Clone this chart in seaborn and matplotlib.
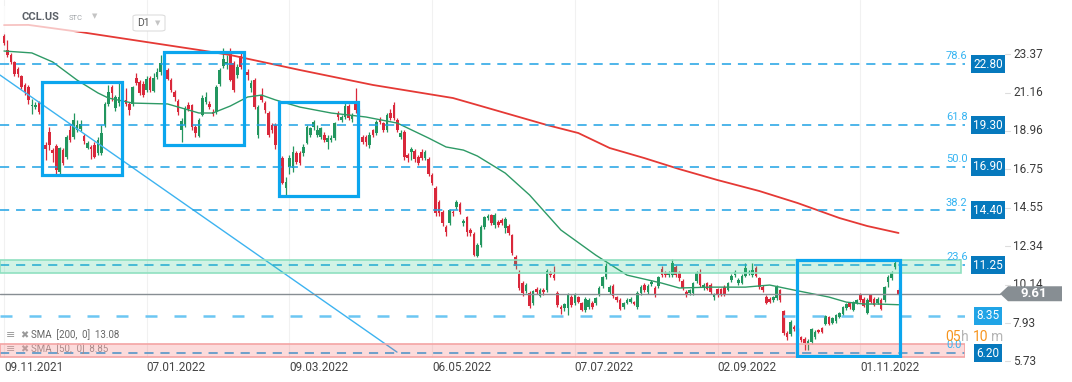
import numpy as np
import pandas as pd
import seaborn as sns
import matplotlib.pyplot as plt
import matplotlib.transforms as mtransforms
from matplotlib.patches import Rectangle, FancyBboxPatch, Polygon

sns.set_style("white")
plt.rcParams['font.family'] = ['Roboto', 'DejaVu Sans']

# daily candles CCL.US (D1)
opens = [24.41, 23.61, 23.32, 22.92, 22.52, 22.11, 21.60, 21.48, 20.39, 20.34,
         20.62, 20.05, 18.15, 18.90, 17.86, 18.09, 16.60, 17.86, 17.46, 19.01,
         18.61, 19.01, 19.07, 18.67, 17.98, 18.04, 18.15, 17.69, 17.69, 19.30,
         20.51, 21.48, 20.28, 20.56, 20.90, 20.74, 20.51, 20.51, 22.00, 21.77,
         21.66, 21.31, 22.00, 21.25, 22.06, 22.34, 22.80, 22.46, 21.88, 21.20,
         20.68, 19.01, 19.30, 20.45, 20.45, 19.19, 18.67, 19.87, 20.62, 20.51,
         20.05, 20.05, 21.66, 22.69, 22.80, 23.40, 22.86, 22.17, 23.26, 22.60,
         22.34, 21.43, 21.88, 18.73, 21.02, 20.56, 19.99, 19.30, 19.30, 17.80,
         17.40, 15.68, 16.89, 16.83, 17.69, 17.69, 17.69, 18.27, 18.73, 19.19,
         18.73, 18.61, 18.73, 18.32, 18.44, 18.55, 19.99, 19.59, 19.76, 20.39,
         19.64, 20.62, 20.10, 18.61, 18.61, 18.15, 19.01, 18.84, 19.64, 19.41,
         19.01, 19.99, 20.45, 19.59, 18.61, 18.90, 17.58, 17.75, 17.81, 17.46,
         17.75, 17.40, 17.35, 16.43, 15.68, 14.88, 14.30, 13.44, 13.67, 14.30,
         14.59, 14.76, 13.67, 14.02, 13.27, 13.04, 11.77, 12.41, 13.44, 13.96,
         14.13, 13.56, 13.73, 13.84, 13.38, 13.50, 12.98, 11.72, 10.74, 10.22,
         9.77, 9.65, 9.08, 9.88, 9.48, 9.82, 9.82, 10.80, 10.68, 9.65,
         8.85, 8.79, 8.79, 9.42, 9.08, 9.42, 9.08, 8.67, 8.85, 9.08,
         9.08, 9.59, 10.05, 10.57, 9.71, 10.05, 9.42, 9.25, 8.85, 9.08,
         9.13, 9.13, 8.85, 9.65, 10.11, 9.71, 10.17, 9.94, 10.05, 11.03,
         10.80, 10.68, 10.68, 11.14, 10.80, 10.34, 9.71, 9.65, 9.65, 10.34,
         10.80, 9.94, 10.22, 10.11, 9.42, 9.88, 9.88, 9.99, 9.82, 10.40,
         10.68, 10.22, 10.22, 10.63, 10.80, 10.68, 11.09, 10.51, 9.99, 9.42,
         9.31, 9.25, 9.36, 9.82, 8.62, 7.35, 7.30, 7.70, 7.55, 7.12,
         7.01, 6.72, 6.84, 7.12, 7.53, 7.64, 7.87, 8.27, 7.93, 8.04,
         8.27, 8.44, 8.79, 9.08, 8.67, 9.08, 9.59, 9.31, 8.50, 9.54,
         9.31, 9.08, 9.25, 9.25, 10.28, 10.51, 11.14, 9.85]
highs = [24.55, 24.18, 23.45, 23.00, 22.65, 22.20, 21.70, 21.60, 20.80, 20.60,
         20.70, 20.10, 18.30, 19.20, 18.00, 18.20, 18.05, 18.00, 18.70, 19.30,
         20.00, 19.60, 19.60, 18.80, 18.40, 18.15, 18.30, 18.60, 19.30, 20.60,
         21.60, 21.60, 21.00, 21.70, 21.10, 21.43, 20.60, 21.55, 22.30, 21.90,
         21.80, 22.10, 22.10, 22.30, 22.60, 23.30, 23.30, 22.60, 22.00, 21.30,
         20.80, 19.70, 20.40, 20.60, 20.50, 19.30, 19.70, 21.00, 21.20, 20.70,
         20.20, 21.60, 22.60, 23.72, 23.30, 23.75, 23.00, 22.80, 23.50, 22.70,
         22.50, 21.90, 22.00, 20.45, 21.40, 20.70, 20.10, 19.40, 19.40, 17.90,
         17.50, 16.30, 17.60, 18.10, 17.80, 17.80, 18.20, 19.30, 19.20, 19.60,
         19.30, 19.20, 18.90, 18.70, 18.70, 19.50, 20.10, 19.90, 20.60, 20.50,
         20.00, 21.43, 20.20, 18.70, 18.70, 18.90, 19.10, 19.60, 19.75, 19.50,
         20.00, 20.20, 20.60, 19.70, 19.00, 19.00, 17.70, 18.05, 17.90, 17.60,
         17.90, 17.85, 17.45, 16.55, 15.80, 15.00, 14.40, 13.55, 14.50, 14.40,
         15.00, 14.90, 13.90, 14.10, 13.40, 13.15, 12.50, 13.55, 14.10, 14.20,
         14.20, 14.25, 13.85, 13.95, 14.00, 13.60, 13.05, 11.85, 11.00, 10.35,
         10.20, 9.75, 9.85, 10.00, 9.95, 9.95, 11.05, 10.90, 11.20, 9.75,
         8.95, 9.10, 9.65, 9.55, 9.65, 9.50, 9.15, 9.40, 9.35, 9.20,
         9.45, 10.05, 10.65, 11.40, 10.10, 10.15, 9.50, 9.35, 9.15, 9.35,
         9.40, 9.20, 9.75, 10.10, 10.20, 10.15, 10.40, 10.05, 10.65, 11.20,
         10.90, 10.90, 11.60, 11.25, 10.90, 10.45, 9.80, 9.90, 10.30, 10.90,
         11.03, 10.20, 10.30, 10.20, 9.65, 9.95, 9.95, 10.10, 10.30, 10.75,
         10.95, 10.50, 10.75, 11.35, 10.95, 11.40, 11.20, 10.60, 10.10, 9.55,
         9.45, 9.50, 10.10, 9.90, 8.70, 7.45, 8.10, 7.80, 7.65, 7.20,
         7.10, 7.00, 7.65, 7.50, 7.60, 7.70, 8.40, 8.35, 8.30, 8.45,
         8.55, 8.90, 9.10, 9.15, 9.20, 9.30, 9.65, 9.40, 9.35, 9.60,
         9.40, 9.40, 9.35, 10.05, 10.70, 10.90, 11.55, 9.95]
lows = [23.90, 23.21, 22.80, 22.10, 22.05, 21.35, 21.05, 20.50, 19.95, 20.20,
        19.95, 19.00, 17.30, 17.85, 17.15, 16.50, 16.45, 17.00, 17.35, 18.30,
        18.50, 18.90, 18.95, 18.20, 17.90, 17.35, 17.40, 17.60, 17.60, 19.20,
        20.40, 20.70, 20.10, 20.40, 20.40, 20.40, 19.90, 20.40, 21.60, 21.00,
        20.90, 21.20, 21.20, 21.20, 21.95, 22.20, 22.60, 21.90, 21.20, 20.70,
        19.90, 18.32, 19.20, 20.10, 19.00, 18.60, 18.60, 19.80, 20.50, 20.20,
        19.80, 19.95, 21.55, 22.60, 22.50, 21.80, 21.20, 22.00, 22.50, 22.00,
        21.90, 21.20, 20.20, 18.55, 20.60, 20.00, 18.60, 18.85, 17.90, 16.80,
        15.90, 15.22, 16.50, 16.60, 17.05, 17.00, 17.50, 18.20, 18.60, 19.00,
        18.60, 18.50, 18.35, 17.95, 18.30, 18.45, 19.60, 19.50, 19.65, 19.60,
        19.50, 20.00, 18.70, 18.20, 18.10, 18.00, 18.60, 18.70, 19.35, 18.90,
        18.90, 19.60, 19.60, 18.90, 18.50, 17.30, 17.20, 17.30, 17.20, 17.00,
        17.30, 17.30, 16.40, 15.85, 14.10, 14.10, 13.50, 12.95, 13.55, 14.10,
        14.45, 14.20, 13.50, 12.90, 12.90, 11.75, 11.70, 12.30, 13.30, 13.85,
        13.55, 13.40, 13.45, 13.55, 13.10, 13.00, 11.85, 11.05, 9.85, 9.50,
        9.65, 8.80, 8.95, 9.60, 9.40, 9.55, 9.70, 10.60, 10.40, 8.85,
        8.45, 8.60, 8.40, 8.85, 8.95, 9.05, 8.60, 8.55, 8.75, 8.75,
        8.95, 9.50, 9.95, 10.45, 9.60, 9.35, 9.15, 8.65, 8.75, 9.00,
        9.05, 8.95, 8.75, 9.55, 9.70, 9.60, 10.05, 9.45, 9.95, 10.60,
        10.55, 10.55, 10.55, 10.55, 10.35, 9.85, 9.45, 9.55, 9.55, 10.25,
        10.00, 9.85, 9.80, 9.60, 9.25, 9.45, 9.50, 9.50, 9.75, 10.30,
        10.60, 10.10, 10.15, 10.55, 10.70, 10.60, 10.55, 9.90, 9.70, 9.00,
        9.05, 9.15, 9.25, 9.15, 7.25, 6.95, 7.20, 7.45, 7.20, 6.85,
        6.38, 6.40, 6.75, 7.00, 7.35, 7.35, 7.80, 7.80, 7.85, 7.95,
        8.20, 8.35, 8.70, 8.75, 8.60, 9.00, 9.15, 8.85, 8.45, 9.05,
        8.90, 9.00, 8.65, 9.15, 9.99, 10.40, 11.05, 9.55]
closes = [24.01, 23.32, 22.92, 22.23, 22.23, 21.48, 21.20, 20.74, 20.45, 20.45,
          20.05, 19.10, 17.92, 18.15, 17.69, 16.72, 17.98, 17.12, 18.61, 18.44,
          19.59, 19.30, 19.36, 18.38, 18.27, 17.92, 17.46, 18.44, 18.84, 20.51,
          21.20, 21.14, 20.91, 20.91, 20.60, 20.51, 20.16, 21.48, 21.71, 21.14,
          21.02, 21.94, 21.31, 22.00, 22.34, 22.86, 23.10, 21.94, 21.31, 20.91,
          20.05, 19.53, 20.28, 20.22, 19.19, 18.84, 19.59, 20.85, 20.91, 20.34,
          19.93, 21.48, 22.46, 23.09, 22.92, 21.88, 21.31, 22.63, 22.63, 22.20,
          22.17, 21.71, 20.33, 20.33, 20.74, 20.16, 18.73, 19.01, 18.15, 17.00,
          15.97, 16.03, 17.40, 17.75, 17.17, 17.12, 18.04, 19.19, 19.13, 19.47,
          19.01, 19.13, 18.44, 18.55, 18.55, 19.41, 19.76, 19.76, 20.39, 19.70,
          19.87, 20.16, 18.80, 18.32, 18.32, 18.73, 18.73, 19.47, 19.47, 19.01,
          19.87, 19.70, 19.70, 19.01, 18.84, 17.46, 17.40, 17.92, 17.35, 17.12,
          17.40, 17.75, 16.49, 15.97, 14.25, 14.25, 13.67, 13.15, 14.42, 14.25,
          14.88, 14.30, 13.79, 13.15, 13.10, 11.83, 12.41, 13.44, 14.02, 14.07,
          13.67, 14.13, 13.56, 13.67, 13.90, 13.10, 11.95, 11.20, 9.94, 9.65,
          10.11, 8.90, 9.77, 9.71, 9.82, 9.71, 10.91, 10.68, 10.51, 8.96,
          8.73, 9.02, 9.54, 8.96, 9.54, 9.13, 8.67, 9.31, 9.25, 8.85,
          9.36, 9.94, 10.57, 11.20, 9.99, 9.48, 9.25, 8.73, 9.08, 9.25,
          9.31, 9.02, 9.65, 9.99, 9.82, 10.05, 10.28, 9.54, 10.57, 10.68,
          10.68, 10.80, 11.37, 10.68, 10.51, 9.94, 9.54, 9.82, 10.22, 10.80,
          10.11, 10.11, 9.88, 9.71, 9.54, 9.54, 9.59, 9.59, 10.22, 10.63,
          10.86, 10.40, 10.63, 11.09, 10.86, 10.97, 10.63, 10.00, 9.82, 9.08,
          9.13, 9.42, 9.99, 9.25, 7.35, 7.12, 7.98, 7.58, 7.30, 6.95,
          6.78, 6.89, 7.58, 7.41, 7.41, 7.41, 8.33, 7.87, 8.21, 8.39,
          8.50, 8.85, 9.02, 8.85, 9.13, 9.25, 9.25, 8.90, 9.25, 9.13,
          8.96, 9.31, 8.73, 9.99, 10.57, 10.80, 11.37, 9.61]

date_ticks = [0, 41, 82, 123, 164, 205, 246]
date_labels = ["09.11.2021", "07.01.2022", "09.03.2022", "06.05.2022",
               "07.07.2022", "02.09.2022", "01.11.2022"]
price_ticks = [23.37, 21.16, 18.96, 16.75, 14.55, 12.34, 10.14, 7.93, 5.73]

# moving averages sampled along the drawn curves
sma200_idx = [0, 7, 22, 56, 65, 85, 106, 129, 136, 156, 165, 174, 184, 194,
              205, 217, 228, 240, 248, 257]
sma200_val = [25.04, 25.05, 24.64, 23.61, 23.32, 22.46, 21.60, 20.85, 20.45,
              19.30, 18.84, 17.98, 17.40, 16.77, 16.14, 15.51, 14.82, 13.96,
              13.50, 13.10]
sma50_idx = [0, 8, 14, 21, 27, 30, 37, 47, 56, 60, 65, 70, 74, 78, 85, 94,
             104, 113, 122, 127, 132, 136, 144, 151, 160, 170, 179, 189, 194,
             203, 213, 220, 227, 237, 242, 247, 251, 257]
sma50_val = [23.55, 23.44, 22.92, 21.88, 21.14, 20.85, 20.56, 20.51, 19.99,
             19.99, 20.39, 20.91, 21.02, 20.74, 20.33, 19.99, 19.76, 19.41,
             18.55, 18.04, 17.86, 17.52, 16.54, 15.28, 13.27, 11.83, 10.68,
             10.22, 9.94, 9.99, 9.99, 10.11, 9.82, 9.42, 9.13, 9.02, 9.02, 8.98]

levels = [22.80, 19.30, 16.90, 14.40, 11.25, 8.35, 6.20]
fib_labels = ["78.6", "61.8", "50.0", "38.2", "23.6", "", "0.0"]
zone_green = [10.80, 11.55]
zone_red = [5.97, 6.72]
trend_x = [-1.15, 112.9]
trend_y = [22.17, 6.26]
# boxes: (start idx, end idx, low, high)
box_x0 = [10.9, 46.0, 79.0, 227.9]
box_x1 = [33.9, 69.0, 101.7, 257.5]
box_lo = [16.43, 18.15, 15.22, 6.03]
box_hi = [21.77, 23.49, 20.62, 11.55]
last_price = 9.61
sma200_last = 13.08
sma50_last = 8.85

W, H = 1072, 382
AX_W, AX_H = 965, 358
fig = plt.figure(figsize=(W / 100, H / 100), dpi=100)
ax = fig.add_axes([0, 1 - AX_H / H, AX_W / W, AX_H / H])
ax.set_xlim(-1.15, 276.1)
ax.set_ylim(5.92, 26.48)
for s in ax.spines.values():
    s.set_visible(False)

def px(x):
    return x / AX_W

def ay(y):
    return 1 - y / AX_H

trans = mtransforms.blended_transform_factory(ax.transAxes, ax.transData)

# candles
o = np.array(opens); h = np.array(highs); l = np.array(lows); c = np.array(closes)
idx = np.arange(len(o))
green, red = '#22965f', '#d9283b'
cols = np.where(c >= o, green, red)
ax.vlines(idx, l, h, colors=cols, lw=0.9, zorder=2)
ax.bar(idx, np.maximum(np.abs(c - o), 0.05), bottom=np.minimum(o, c),
       width=0.75, color=cols, lw=0, zorder=2)

# moving averages
sns.lineplot(data=pd.DataFrame({'i': sma200_idx, 'v': sma200_val}), x='i', y='v',
             ax=ax, color='#e53935', linewidth=1.3, zorder=2.5, legend=False)
sns.lineplot(data=pd.DataFrame({'i': sma50_idx, 'v': sma50_val}), x='i', y='v',
             ax=ax, color='#2e9a66', linewidth=1.0, zorder=2.5, legend=False)

# trend line
ax.plot(trend_x, trend_y, color='#3db3f0', lw=1.0, zorder=3)

# levels
for v, fl in zip(levels, fib_labels):
    if v == 8.35:
        ax.axhline(v, color='#6cc6f3', lw=1.8, dashes=(4.8, 6.8), zorder=3)
    else:
        ax.axhline(v, color='#1ea2e4', lw=1.1, dashes=(6, 4.5), zorder=3)
    if fl:
        ax.annotate(fl, (px(946), v), xycoords=trans, xytext=(0, 2),
                    textcoords='offset points', ha='left', va='bottom',
                    fontsize=8, color='#35b4f2', annotation_clip=False, zorder=6)

# zones
ax.axhspan(zone_green[0], zone_green[1], xmin=0, xmax=px(961),
           facecolor=(0.18, 0.80, 0.55, 0.22), edgecolor='#8fe0c0', lw=1.2, zorder=4)
ax.axhspan(zone_red[0], zone_red[1], xmin=0, xmax=1,
           facecolor=(0.94, 0.30, 0.30, 0.20), edgecolor='#f4a4a4', lw=1.2, zorder=4)

# highlight boxes
for x0, x1, lo, hi in zip(box_x0, box_x1, box_lo, box_hi):
    ax.add_patch(Rectangle((x0, lo), x1 - x0, hi - lo, fill=False,
                           edgecolor='#0ba6ee', lw=2.3, zorder=5))

# last price line and tag
ax.plot([0, px(1000)], [last_price, last_price], transform=trans, clip_on=False,
        color='#878e93', lw=1.0, zorder=3)
dy = 0.43
ax.add_patch(Polygon([(px(1000), last_price), (px(1008), last_price + dy),
                      (px(1062), last_price + dy), (px(1062), last_price - dy),
                      (px(1008), last_price - dy)], closed=True, transform=trans,
                     facecolor='#878e93', edgecolor='none', clip_on=False, zorder=6))
ax.text(px(1034), last_price, f"{last_price:.2f}", transform=trans, ha='center',
        va='center', color='white', fontsize=9.5, fontweight='bold', zorder=7)

# level tags on the right
for v in levels:
    fc = '#20a4e6' if v == 8.35 else '#0679bd'
    ax.text(px(988), v, f"{v:.2f}", transform=trans, ha='center', va='center',
            color='white', fontsize=8.5, clip_on=False, zorder=7,
            bbox=dict(boxstyle='square,pad=0.22', fc=fc, ec='none'))

# price axis labels
for v in price_ticks:
    ax.text(px(1013), v, f"{v:.2f}", transform=trans, ha='left', va='center',
            color='#3a3a3a', fontsize=8.5, clip_on=False)
    ax.plot([px(1005), px(1010)], [v, v], transform=trans, clip_on=False,
            color='#dddddd', lw=0.8)

# date axis
ax.set_xticks(date_ticks)
ax.set_xticklabels(date_labels, fontsize=8.5, color='#444444')
for lbl in ax.get_xticklabels():
    lbl.set_ha('left')
ax.tick_params(axis='x', length=0, pad=2)
ax.set_yticks([])
ax.set_xlabel('')
ax.set_ylabel('')
ax.grid(axis='x', color='#f1f1f1', lw=0.8)
ax.set_axisbelow(True)

# countdown
for txt, x0, col in [("05", 945, '#f7941d'), ("h", 961, '#b5b5b5'),
                     ("10", 973, '#f7941d'), ("m", 991, '#b5b5b5')]:
    ax.text(px(x0), ay(337), txt, transform=ax.transAxes, ha='left', va='center',
            fontsize=10, color=col, clip_on=False, zorder=8)

# indicator legend
ax.text(px(6), ay(335), "\u2261", transform=ax.transAxes, fontsize=8,
        color='#9a9a9a', va='center', ha='left', zorder=6)
ax.text(px(20), ay(335), "\u2716", transform=ax.transAxes, fontsize=7,
        color='#9a9a9a', va='center', ha='left', zorder=6)
ax.text(px(31), ay(335), f"SMA  [200,  0]  {sma200_last:.2f}", transform=ax.transAxes,
        fontsize=7, color='#666666', va='center', ha='left', zorder=6)
ax.text(px(6), ay(349), "\u2261", transform=ax.transAxes, fontsize=8,
        color='#b0b0b0', va='center', ha='left', zorder=3.5)
ax.text(px(20), ay(349), "\u2716", transform=ax.transAxes, fontsize=7,
        color='#b0b0b0', va='center', ha='left', zorder=3.5)
ax.text(px(31), ay(349), f"SMA  [50,  0]  {sma50_last:.2f}", transform=ax.transAxes,
        fontsize=7, color='#999999', va='center', ha='left', zorder=3.5)

# header
fig.add_artist(Rectangle((0, 1 - 32 / H), 105 / W, 26 / H, transform=fig.transFigure,
                         facecolor='white', alpha=0.7, edgecolor='none'))
fig.text(21 / W, 1 - 17 / H, "CCL.US", fontsize=8, fontweight='bold', color='#5a5f66',
         va='center', ha='left')
fig.text(69 / W, 1 - 18 / H, "STC", fontsize=5.5, color='#a0a4a8', va='center', ha='left')
fig.text(92 / W, 1 - 16 / H, "\u25bc", fontsize=5, color='#c4c4c4', va='center',
         ha='left', family='DejaVu Sans')
fig.add_artist(FancyBboxPatch((133 / W, 1 - 31 / H), 32 / W, 16 / H,
                              boxstyle='round,pad=0,rounding_size=0.004',
                              transform=fig.transFigure, facecolor='white',
                              edgecolor='#dddddd', lw=0.8))
fig.text(137 / W, 1 - 23 / H, "D1", fontsize=7.5, color='#555555', va='center', ha='left')
fig.text(155 / W, 1 - 23 / H, "\u25bc", fontsize=5, color='#c4c4c4', va='center',
         ha='left', family='DejaVu Sans')

fig.savefig('out.png', dpi=100)
